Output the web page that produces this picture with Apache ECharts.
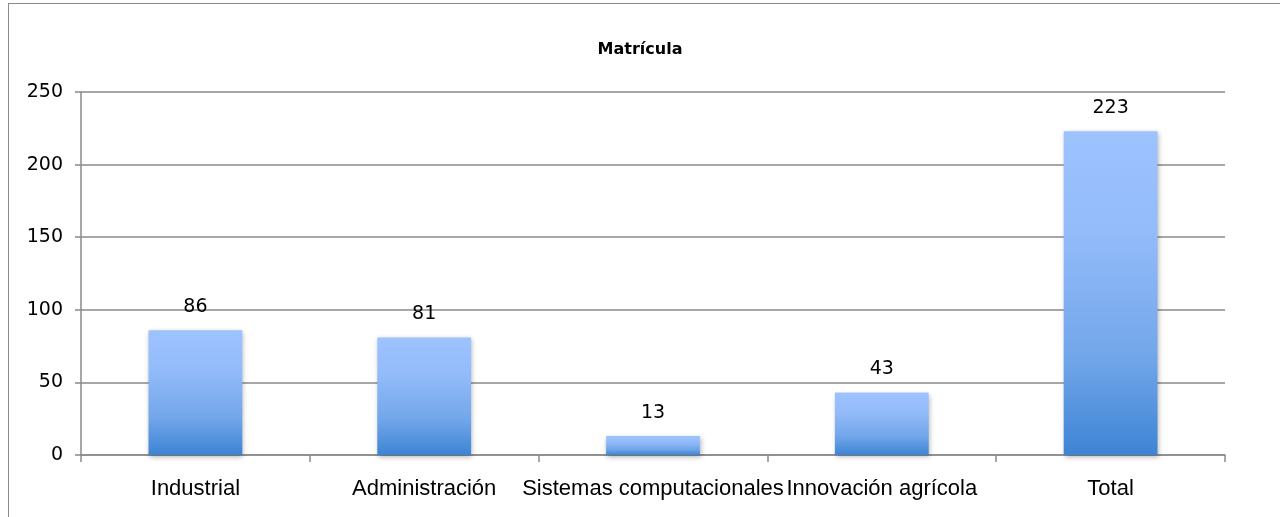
<!DOCTYPE html>
<html>
<head>
<meta charset="utf-8">
<script src="https://cdn.jsdelivr.net/npm/echarts@6/dist/echarts.min.js"></script>
<style>
  html, body { margin: 0; padding: 0; background: #fff; }
  .frame {
    position: absolute; left: 8px; top: 3px; width: 1272px; height: 514px;
    border-left: 1px solid #8a8a8a; border-top: 1px solid #8a8a8a;
    box-sizing: border-box;
  }
  #matricula { position: absolute; left: 0; top: 0; width: 1280px; height: 517px; }
</style>
</head>
<body>
<div class="frame"></div>
<div id="matricula"></div>
<script>
// datos de la grafica
var categorias = ['Industrial', 'Administración', 'Sistemas computacionales', 'Innovación agrícola', 'Total'];
var matricula = [86, 81, 13, 43, 223];
var ejeY = { min: 0, max: 250, interval: 50 };

var chart = echarts.init(document.getElementById('matricula'));
var option = {
  animation: false,
  title: {
    text: 'Matrícula',
    left: 'center',
    top: 37,
    textStyle: { fontFamily: 'DejaVu Sans', fontSize: 16, fontWeight: 'bold', color: '#000' }
  },
  grid: { left: 81, right: 55, top: 92, bottom: 62 },
  xAxis: {
    type: 'category',
    data: categorias,
    axisLine: { lineStyle: { color: '#8a8a8a', width: 1.5 } },
    axisTick: { show: true, length: 7, lineStyle: { color: '#8a8a8a', width: 1.5 } },
    axisLabel: {
      interval: 0,
      margin: 23,
      color: '#000',
      fontFamily: 'Liberation Sans',
      fontSize: 22
    }
  },
  yAxis: {
    type: 'value',
    min: ejeY.min,
    max: ejeY.max,
    interval: ejeY.interval,
    axisLine: { show: true, lineStyle: { color: '#8a8a8a', width: 1.5 } },
    axisTick: { show: true, length: 6, lineStyle: { color: '#8a8a8a', width: 1.5 } },
    splitLine: { lineStyle: { color: '#8a8a8a', width: 1.5 } },
    axisLabel: {
      margin: 18,
      color: '#000',
      fontFamily: 'DejaVu Sans',
      fontSize: 19
    }
  },
  series: [{
    name: 'Matrícula',
    type: 'bar',
    data: matricula,
    barWidth: '41%',
    label: {
      show: true,
      position: 'top',
      distance: 14,
      color: '#000',
      fontFamily: 'DejaVu Sans',
      fontSize: 19
    },
    itemStyle: {
      color: new echarts.graphic.LinearGradient(0, 0, 0, 1, [
        { offset: 0, color: '#9dc3ff' },
        { offset: 0.3, color: '#94bcfa' },
        { offset: 0.7, color: '#72a6ea' },
        { offset: 1, color: '#3d84d4' }
      ]),
      shadowBlur: 5,
      shadowColor: 'rgba(0,0,0,0.3)',
      shadowOffsetX: 1,
      shadowOffsetY: 2
    }
  }]
};
chart.setOption(option);
</script>
</body>
</html>
